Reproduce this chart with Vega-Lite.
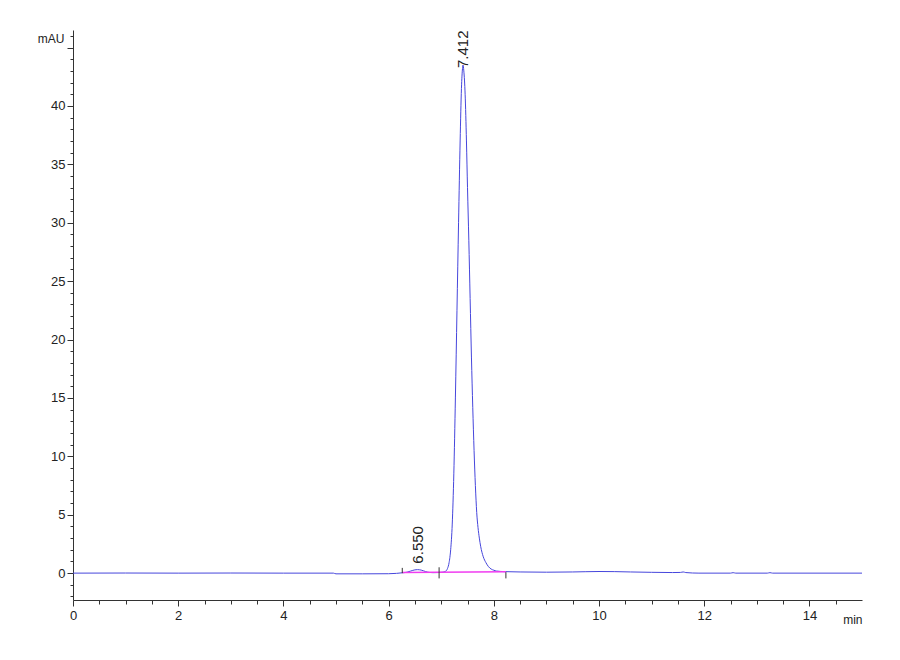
{
  "$schema": "https://vega.github.io/schema/vega-lite/v6.json",
  "width": 789,
  "height": 570,
  "autosize": "none",
  "padding": {"left": 73, "top": 30, "right": 38, "bottom": 60},
  "config": {
    "view": {"stroke": null},
    "font": "Liberation Sans",
    "axis": {
      "grid": false,
      "domainColor": "#333333",
      "tickColor": "#333333",
      "labelColor": "#222222",
      "labelFont": "Liberation Sans",
      "labelFontSize": 13,
      "labelOverlap": false,
      "titleFont": "Liberation Sans",
      "titleFontWeight": "normal",
      "titleColor": "#222222",
      "titleFontSize": 12
    }
  },
  "datasets": {
    "trace": [
      {"t": 0, "v": 0}, {"t": 1, "v": 0.01}, {"t": 2, "v": 0}, {"t": 3, "v": 0.01}, {"t": 4, "v": 0},
      {"t": 4.95, "v": 0}, {"t": 5.0, "v": -0.06}, {"t": 5.5, "v": -0.06}, {"t": 6.0, "v": -0.05},
      {"t": 6.15, "v": -0.02}, {"t": 6.26, "v": 0.03}, {"t": 6.35, "v": 0.08}, {"t": 6.42, "v": 0.18},
      {"t": 6.5, "v": 0.28}, {"t": 6.55, "v": 0.3}, {"t": 6.62, "v": 0.26}, {"t": 6.7, "v": 0.14},
      {"t": 6.77, "v": 0.06}, {"t": 6.85, "v": 0.04}, {"t": 6.95, "v": 0.05}, {"t": 7.03, "v": 0.08},
      {"t": 7.08, "v": 0.15}, {"t": 7.12, "v": 0.4}, {"t": 7.15, "v": 0.9}, {"t": 7.18, "v": 2.0},
      {"t": 7.21, "v": 4.2}, {"t": 7.24, "v": 8.5}, {"t": 7.27, "v": 15.0}, {"t": 7.30, "v": 22.5},
      {"t": 7.33, "v": 30.0}, {"t": 7.36, "v": 37.0}, {"t": 7.385, "v": 41.5}, {"t": 7.405, "v": 43.2},
      {"t": 7.415, "v": 43.5}, {"t": 7.43, "v": 43.0}, {"t": 7.455, "v": 41.0}, {"t": 7.48, "v": 37.0},
      {"t": 7.50, "v": 33.0}, {"t": 7.525, "v": 28.5}, {"t": 7.55, "v": 23.5}, {"t": 7.575, "v": 18.5},
      {"t": 7.60, "v": 14.2}, {"t": 7.625, "v": 10.5}, {"t": 7.65, "v": 7.5}, {"t": 7.675, "v": 5.2},
      {"t": 7.70, "v": 3.9}, {"t": 7.725, "v": 3.0}, {"t": 7.75, "v": 2.3}, {"t": 7.80, "v": 1.4},
      {"t": 7.85, "v": 0.9}, {"t": 7.90, "v": 0.55}, {"t": 7.95, "v": 0.35}, {"t": 8.0, "v": 0.25},
      {"t": 8.05, "v": 0.18}, {"t": 8.2, "v": 0.13}, {"t": 8.5, "v": 0.1}, {"t": 9.0, "v": 0.08},
      {"t": 9.5, "v": 0.1}, {"t": 10.0, "v": 0.14}, {"t": 10.3, "v": 0.13}, {"t": 10.6, "v": 0.1},
      {"t": 11.0, "v": 0.07}, {"t": 11.4, "v": 0.05}, {"t": 11.55, "v": 0.06}, {"t": 11.6, "v": 0.1},
      {"t": 11.65, "v": 0.05}, {"t": 11.9, "v": 0.0}, {"t": 12.5, "v": 0.0}, {"t": 12.55, "v": 0.04},
      {"t": 12.6, "v": 0.0}, {"t": 13.2, "v": 0.0}, {"t": 13.25, "v": 0.04}, {"t": 13.3, "v": 0.0},
      {"t": 15, "v": 0.0}
    ],
    "baseline": [
      {"t": 6.26, "v": 0.06},
      {"t": 8.23, "v": 0.12}
    ],
    "markers": [
      {"t": 6.26, "v": 0.0, "v2": 0.45},
      {"t": 6.96, "v": -0.45, "v2": 0.5},
      {"t": 8.23, "v": -0.45, "v2": 0.08}
    ],
    "peaks": [
      {"t": 7.412, "v": 43.5, "label": "7.412"},
      {"t": 6.55, "v": 0.3, "label": "6.550"}
    ]
  },
  "encoding": {
    "x": {
      "field": "t",
      "type": "quantitative",
      "scale": {"domain": [0, 15], "nice": false, "zero": false},
      "axis": {
        "values": [0, 0.5, 1, 1.5, 2, 2.5, 3, 3.5, 4, 4.5, 5, 5.5, 6, 6.5, 7, 7.5, 8, 8.5, 9, 9.5, 10, 10.5, 11, 11.5, 12, 12.5, 13, 13.5, 14, 14.5],
        "format": "~g",
        "labelExpr": "datum.value % 2 === 0 ? datum.label : ''",
        "tickSize": {"condition": {"test": "datum.value % 2 === 0", "value": 6}, "value": 4},
        "labelFlush": false,
        "labelPadding": 3,
        "title": "min",
        "titleAlign": "right",
        "titleBaseline": "middle",
        "titleX": 789,
        "titleY": 19
      }
    },
    "y": {
      "field": "v",
      "type": "quantitative",
      "scale": {"domain": [-2.3, 46.5], "nice": false, "zero": false},
      "axis": {
        "values": [-2, -1, 0, 1, 2, 3, 4, 5, 6, 7, 8, 9, 10, 11, 12, 13, 14, 15, 16, 17, 18, 19, 20, 21, 22, 23, 24, 25, 26, 27, 28, 29, 30, 31, 32, 33, 34, 35, 36, 37, 38, 39, 40, 41, 42, 43, 44, 45, 46],
        "format": "~g",
        "labelExpr": "datum.value % 5 === 0 && datum.value >= 0 && datum.value <= 40 ? datum.label : ''",
        "tickSize": {"condition": {"test": "datum.value % 5 === 0", "value": 6}, "value": 3},
        "labelPadding": 2,
        "title": "mAU",
        "titleAngle": 0,
        "titleAlign": "right",
        "titleBaseline": "middle",
        "titleX": -9,
        "titleY": 8
      }
    }
  },
  "layer": [
    {
      "data": {"name": "trace"},
      "mark": {"type": "line", "color": "#4646dc", "strokeWidth": 1, "interpolate": "monotone"}
    },
    {
      "data": {"name": "baseline"},
      "mark": {"type": "line", "color": "#f03cf0", "strokeWidth": 1.5}
    },
    {
      "data": {"name": "markers"},
      "mark": {"type": "rule", "color": "#333333", "strokeWidth": 1},
      "encoding": {"y2": {"field": "v2"}}
    },
    {
      "data": {"name": "peaks"},
      "transform": [{"filter": "datum.label === '7.412'"}],
      "mark": {"type": "text", "angle": 270, "align": "left", "baseline": "middle", "fontSize": 15, "color": "#222222", "dx": -3},
      "encoding": {"text": {"field": "label"}}
    },
    {
      "data": {"name": "peaks"},
      "transform": [{"filter": "datum.label === '6.550'"}],
      "mark": {"type": "text", "angle": 270, "align": "left", "baseline": "middle", "fontSize": 15, "color": "#222222", "dx": 6},
      "encoding": {"text": {"field": "label"}}
    }
  ]
}
